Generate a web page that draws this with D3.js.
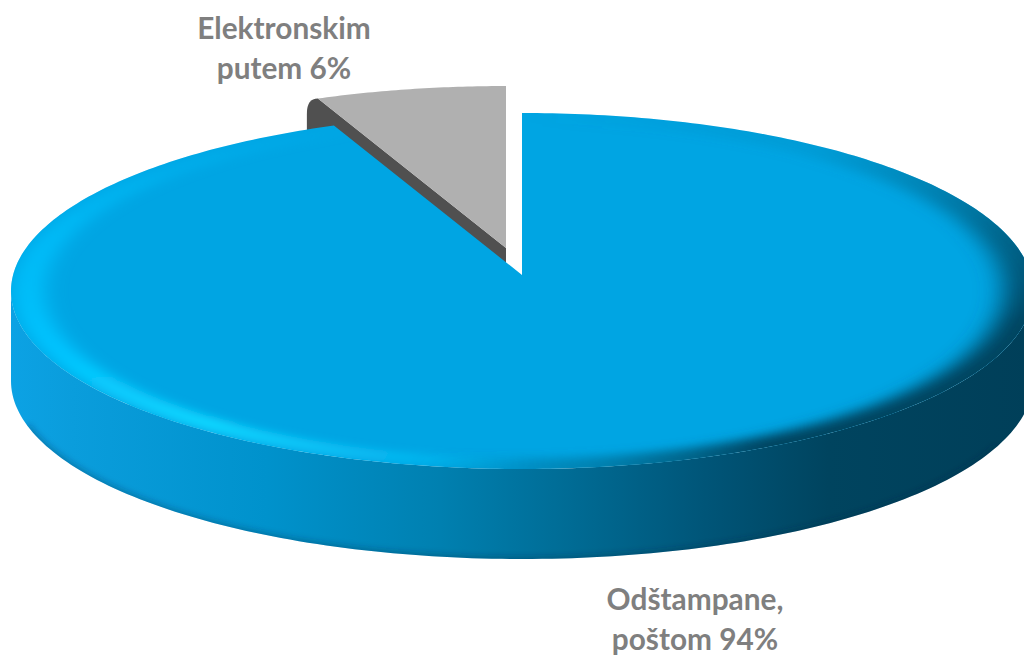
<!DOCTYPE html>
<html><head><meta charset="utf-8">
<script src="https://cdnjs.cloudflare.com/ajax/libs/d3/7.8.5/d3.min.js"></script>
<style>html,body{margin:0;padding:0;background:#fff;overflow:hidden}svg{display:block}</style>
</head><body><svg id="c" width="1024" height="657"></svg>
<script>
const categories = ["Odštampane, poštom", "Elektronskim putem"];
const values = [94, 6];
const labelLines = [["Odštampane,", "poštom 94%"], ["Elektronskim", "putem 6%"]];
const labelAnchors = [[695, 610], [284, 39]];
const wallStops = [[0,"#0ca2e4"],[0.06,"#0a9ddc"],[0.25,"#0092cc"],[0.42,"#0080b0"],[0.55,"#006b94"],[0.68,"#005578"],[0.8,"#00445f"],[1,"#003f59"]];
const darkDeg = [0,35,70,100,150,170,190,360];
const darkCol = ["rgba(0,110,150,0)","rgba(0,110,150,.15)","rgba(0,85,118,.75)","rgba(0,68,96,1)","rgba(0,68,96,1)","rgba(0,100,135,.5)","rgba(0,120,160,0)","rgba(0,120,160,0)"];
const lightDeg = [0,178,200,218,250,285,315,340,360];
const lightCol = ["rgba(0,190,250,0)","rgba(0,190,250,0)","rgba(15,205,255,.55)","rgba(18,214,255,1)","rgba(0,196,255,1)","rgba(0,190,250,.85)","rgba(0,185,245,.35)","rgba(0,165,227,0)","rgba(0,165,227,0)"];

const W=1024,H=657,cx=522,cy=291,rx=511,ry=178,depth=90;
const apexY=275, off=[-16,-27];
const svg=d3.select("#c");
const defs=svg.append("defs");
const sx=d3.scaleLinear().domain([-1,1]).range([cx-rx,cx+rx]);
const sy=d3.scaleLinear().domain([-1,1]).range([cy+ry,cy-ry]);
const pie=d3.pie().sort(null).startAngle(0).endAngle(2*Math.PI)(values);
const line=d3.line();
const arcPts=(a0,a1,dx=0,dy=0,n=160)=>d3.range(n+1).map(i=>{const t=a0+(a1-a0)*i/n;return [sx(Math.sin(t))+dx,sy(Math.cos(t))+dy];});

const wg=defs.append("linearGradient").attr("id","wall").attr("gradientUnits","userSpaceOnUse")
 .attr("x1",cx-rx).attr("x2",cx+rx).attr("y1",0).attr("y2",0);
wg.selectAll("stop").data(wallStops).join("stop").attr("offset",d=>d[0]).attr("stop-color",d=>d[1]);
const blur=(id,s)=>defs.append("filter").attr("id",id).attr("filterUnits","userSpaceOnUse")
 .attr("x",-800).attr("y",-800).attr("width",1900).attr("height",1900)
 .append("feGaussianBlur").attr("stdDeviation",s);
blur("darkBlur",13); blur("lightBlur",10); blur("edgeBlur",3);

// grey slice (exploded) with its dark side
const g=pie[1];
const gArc=arcPts(g.startAngle,g.endAngle,off[0],off[1],40);
const L=gArc[0], gApex=[cx+off[0],apexY+off[1]];
const dp=d3.path();
dp.moveTo(L[0],L[1]);
dp.quadraticCurveTo(L[0]-11,L[1],L[0]-11,L[1]+15);
dp.lineTo(L[0]-11,L[1]+50);
dp.lineTo(gApex[0],gApex[1]+30);
dp.lineTo(gApex[0],gApex[1]);
dp.closePath();
svg.append("path").attr("d",dp.toString()).attr("fill","#505050");
svg.append("path").attr("d",line([gApex,...gArc])+"Z").attr("fill","#b0b0b0");

// main slice: wall
const lower=arcPts(Math.PI/2,3*Math.PI/2,0,depth);
const upper=arcPts(3*Math.PI/2,Math.PI/2,0,0);
const wallD=line([...lower,...upper])+"Z";
defs.append("clipPath").attr("id","wallClip").append("path").attr("d",wallD);
svg.append("path").attr("d",wallD).attr("fill","url(#wall)");
svg.append("g").attr("clip-path","url(#wallClip)").append("path")
 .attr("d",line(arcPts(Math.PI*0.62,Math.PI*1.42,0,depth+1))).attr("fill","none")
 .attr("stroke","rgba(0,40,70,.35)").attr("stroke-width",6).attr("filter","url(#edgeBlur)");

// main slice: top face
const m=pie[0];
const faceD=line([[cx,apexY],...arcPts(m.startAngle,m.endAngle,0,0,400)])+"Z";
defs.append("clipPath").attr("id","faceClip").append("path").attr("d",faceD);
svg.append("path").attr("d",faceD).attr("fill","#00a5e3");

// bevel rims, coloured by angle
const segs=d3.range(0,360,2);
const rimRoot=svg.append("g").attr("clip-path","url(#faceClip)")
 .append("g").attr("transform",`translate(${cx},${cy}) scale(1,${ry/rx})`);
function drawRim(deg,col,R,width,filter){
  const color=d3.scaleLinear().domain(deg).range(col).interpolate(d3.interpolateRgb);
  rimRoot.append("g").attr("filter",`url(#${filter})`).selectAll("path").data(segs).join("path")
   .attr("d",d=>{const a=d*Math.PI/180,b=(d+2.4)*Math.PI/180;
     return `M${R*Math.sin(a)},${-R*Math.cos(a)}A${R},${R} 0 0 1 ${R*Math.sin(b)},${-R*Math.cos(b)}`;})
   .attr("fill","none").attr("stroke-width",width).attr("stroke",d=>color(d));
}
drawRim(darkDeg,darkCol,rx*1.01,70,"darkBlur");
drawRim(lightDeg,lightCol,rx*0.965,32,"lightBlur");

// labels
const txt=svg.append("g").attr("font-family","Lato, 'Open Sans', sans-serif").attr("font-weight",700)
 .attr("font-size",29.8).attr("fill","#7f7f7f").attr("text-anchor","middle");
labelLines.forEach((ls,i)=>ls.forEach((s,j)=>{
  txt.append("text").attr("x",labelAnchors[i][0]).attr("y",labelAnchors[i][1]+j*39.5).text(s);
}));
</script></body></html>
